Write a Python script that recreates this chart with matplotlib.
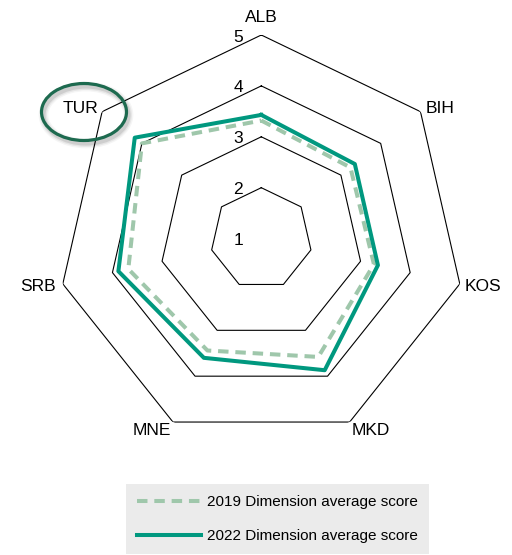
import numpy as np
import matplotlib

matplotlib.use("Agg")
import matplotlib.pyplot as plt
from matplotlib.lines import Line2D
from matplotlib.patches import Ellipse

# average dimension scores per economy
economies = ["ALB", "BIH", "KOS", "MKD", "MNE", "SRB", "TUR"]
scores_2019 = [3.32, 3.24, 3.27, 3.58, 3.44, 3.68, 4.00]
scores_2022 = [3.43, 3.35, 3.35, 3.87, 3.60, 3.88, 4.18]
levels = [2, 3, 4, 5]
level_labels = ["1", "2", "3", "4", "5"]

C2019 = "#9fc7ab"
C2022 = "#00987f"
RING = "#1d6a4f"
NARROW = ["Liberation Sans Narrow", "Liberation Sans", "DejaVu Sans"]
REGULAR = ["Liberation Sans", "DejaVu Sans"]

W, H = 512, 555
cx, cy, R = 261.3, 238.6, 203.6

fig = plt.figure(figsize=(W / 100, H / 100), dpi=100)
ax = fig.add_axes([(cx - R) / W, (H - cy - R) / H, 2 * R / W, 2 * R / H], projection="polar")
ax.set_theta_zero_location("N")
ax.set_theta_direction(-1)
ax.set_ylim(1, 5)
ax.set_xticks([])
ax.set_yticks([])
ax.grid(False)
ax.spines["polar"].set_visible(False)
ax.patch.set_alpha(0)

n = len(economies)
theta = np.linspace(0, 2 * np.pi, n, endpoint=False)
closed = np.append(theta, theta[0])

for lv in levels:
    ax.plot(closed, [lv] * (n + 1), color="black", lw=0.8, zorder=1)

ax.plot(closed, scores_2019 + scores_2019[:1], color=C2019, lw=2.9,
        dashes=(2.6, 1.7), zorder=3)
ax.plot(closed, scores_2022 + scores_2022[:1], color=C2022, lw=2.9, zorder=4)

# scale numbers along the ALB axis
for i, lab in enumerate(level_labels):
    ax.annotate(lab, (0, i + 1), xytext=(-23, -6.5), textcoords="offset pixels",
                ha="center", va="baseline", fontsize=12.5, family=NARROW)

offsets = [(0, 20), (19.5, 5), (23, -1), (21, -6), (-21, -6), (-25, -1), (-22, 5)]
for t, name, (dx, dy) in zip(theta, economies, offsets):
    ax.annotate(name, (t, 5), xytext=(dx, dy - 6.5), textcoords="offset pixels",
                ha="center", va="baseline", fontsize=12.5, family=NARROW)

# highlight ring around TUR with a soft shadow
ex, ey, ew, eh = 84, 112, 85, 57
for k, a in [(7, 0.04), (5, 0.06), (3, 0.1)]:
    fig.add_artist(Ellipse(((ex + 2) / W, 1 - (ey + 3) / H), ew / W, eh / H,
                           transform=fig.transFigure, fill=False,
                           edgecolor="black", lw=k, alpha=a))
fig.add_artist(Ellipse((ex / W, 1 - ey / H), ew / W, eh / H,
                       transform=fig.transFigure, fill=False,
                       edgecolor=RING, lw=2.3))

handles = [
    Line2D([], [], color=C2019, lw=2.9, dashes=(2.6, 1.7)),
    Line2D([], [], color=C2022, lw=2.9),
]
leg = fig.legend(handles, ["2019 Dimension average score", "2022 Dimension average score"],
                 loc="center", bbox_to_anchor=(277.5 / W, 1 - 519 / H),
                 prop={"family": REGULAR, "size": 11}, frameon=True, fancybox=False,
                 facecolor="#ebebeb", edgecolor="none", framealpha=1,
                 handlelength=4.2, handletextpad=0.4, labelspacing=1.3,
                 borderpad=0.7, borderaxespad=0)

fig.savefig("out.png", dpi=100)
